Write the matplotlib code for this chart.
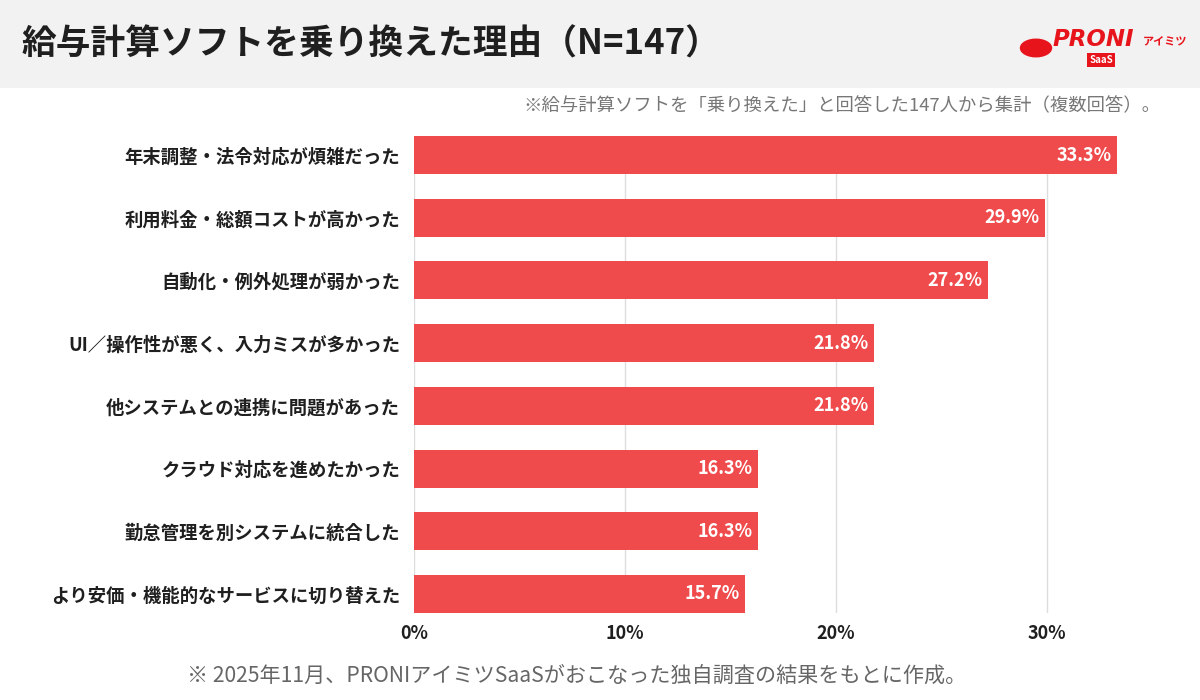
import matplotlib
matplotlib.use("Agg")
import matplotlib.pyplot as plt
from matplotlib.patches import Rectangle, Wedge

plt.rcParams['font.family'] = ['Noto Sans CJK JP', 'DejaVu Sans']

# data
reasons = [
    "年末調整・法令対応が煩雑だった",
    "利用料金・総額コストが高かった",
    "自動化・例外処理が弱かった",
    "UI／操作性が悪く、入力ミスが多かった",
    "他システムとの連携に問題があった",
    "クラウド対応を進めたかった",
    "勤怠管理を別システムに統合した",
    "より安価・機能的なサービスに切り替えた",
]
shares = [33.3, 29.9, 27.2, 21.8, 21.8, 16.3, 16.3, 15.7]
x_ticks = [0, 10, 20, 30]

title = "給与計算ソフトを乗り換えた理由（N=147）"
note = "※給与計算ソフトを「乗り換えた」と回答した147人から集計（複数回答）。"
footer = "※ 2025年11月、PRONIアイミツSaaSがおこなった独自調査の結果をもとに作成。"

bar_color = "#f04b4c"
text_color = "#1f1f1f"
logo_red = "#e8141b"

fig = plt.figure(figsize=(12, 7), dpi=100)
fig.patch.set_facecolor("white")

# header band
fig.patches.append(Rectangle((0, 1 - 88 / 700), 1, 88 / 700, transform=fig.transFigure,
                             facecolor="#f2f2f2", edgecolor="none", zorder=0))
fig.text(21 / 1200, 1 - 44 / 700, title, fontsize=25, fontweight="bold",
         color=text_color, va="center", ha="left")

# rough logo
fig.patches.append(Wedge((1036 / 1200, 1 - 48 / 700), 0.0135, 0, 360, transform=fig.transFigure,
                         facecolor=logo_red, edgecolor="none"))
fig.text(1053 / 1200, 1 - 40 / 700, "PRONI", fontsize=16.5, fontweight="bold", style="italic",
         color=logo_red, va="center", ha="left", family=["DejaVu Sans"])
fig.text(1143 / 1200, 1 - 41 / 700, "アイミツ", fontsize=8, fontweight="bold",
         color=logo_red, va="center", ha="left")
fig.text(1101 / 1200, 1 - 60 / 700, "SaaS", fontsize=7, fontweight="bold", color="white",
         va="center", ha="center",
         bbox=dict(boxstyle="square,pad=0.2", facecolor=logo_red, edgecolor="none"))

fig.text(1160 / 1200, 1 - 106 / 700, note, fontsize=13.2, color="#777777",
         va="center", ha="right")
fig.text(577 / 1200, 1 - 676 / 700, footer, fontsize=15.2, color="#666666",
         va="center", ha="center")

# plot area
left_px, right_px, top_px, bottom_px = 414, 1140, 136, 613
ax = fig.add_axes([left_px / 1200, 1 - bottom_px / 700,
                   (right_px - left_px) / 1200, (bottom_px - top_px) / 700])
xmax = (right_px - left_px) / 211.0 * 10

ypos = list(range(len(reasons)))
ax.barh(ypos, shares, height=0.606, color=bar_color, zorder=2)
for y, v in zip(ypos, shares):
    ax.text(v - 0.25, y, f"{v:.1f}%", ha="right", va="center", color="white",
            fontsize=13, fontweight="bold", zorder=3)

ax.set_xlim(0, xmax)
ax.set_ylim(len(reasons) - 0.697, -0.303)
ax.set_yticks(ypos)
ax.set_yticklabels(reasons, fontsize=13.2, fontweight="bold", color=text_color)
ax.set_xticks(x_ticks)
ax.set_xticklabels([f"{t}%" for t in x_ticks], fontsize=13, fontweight="bold", color=text_color)
ax.tick_params(axis="both", length=0)
ax.tick_params(axis="y", pad=10)
ax.tick_params(axis="x", pad=8)
ax.grid(axis="x", color="#dddddd", linewidth=1, zorder=0)
ax.set_axisbelow(True)
for s in ax.spines.values():
    s.set_visible(False)

fig.savefig("out.png", dpi=100)
